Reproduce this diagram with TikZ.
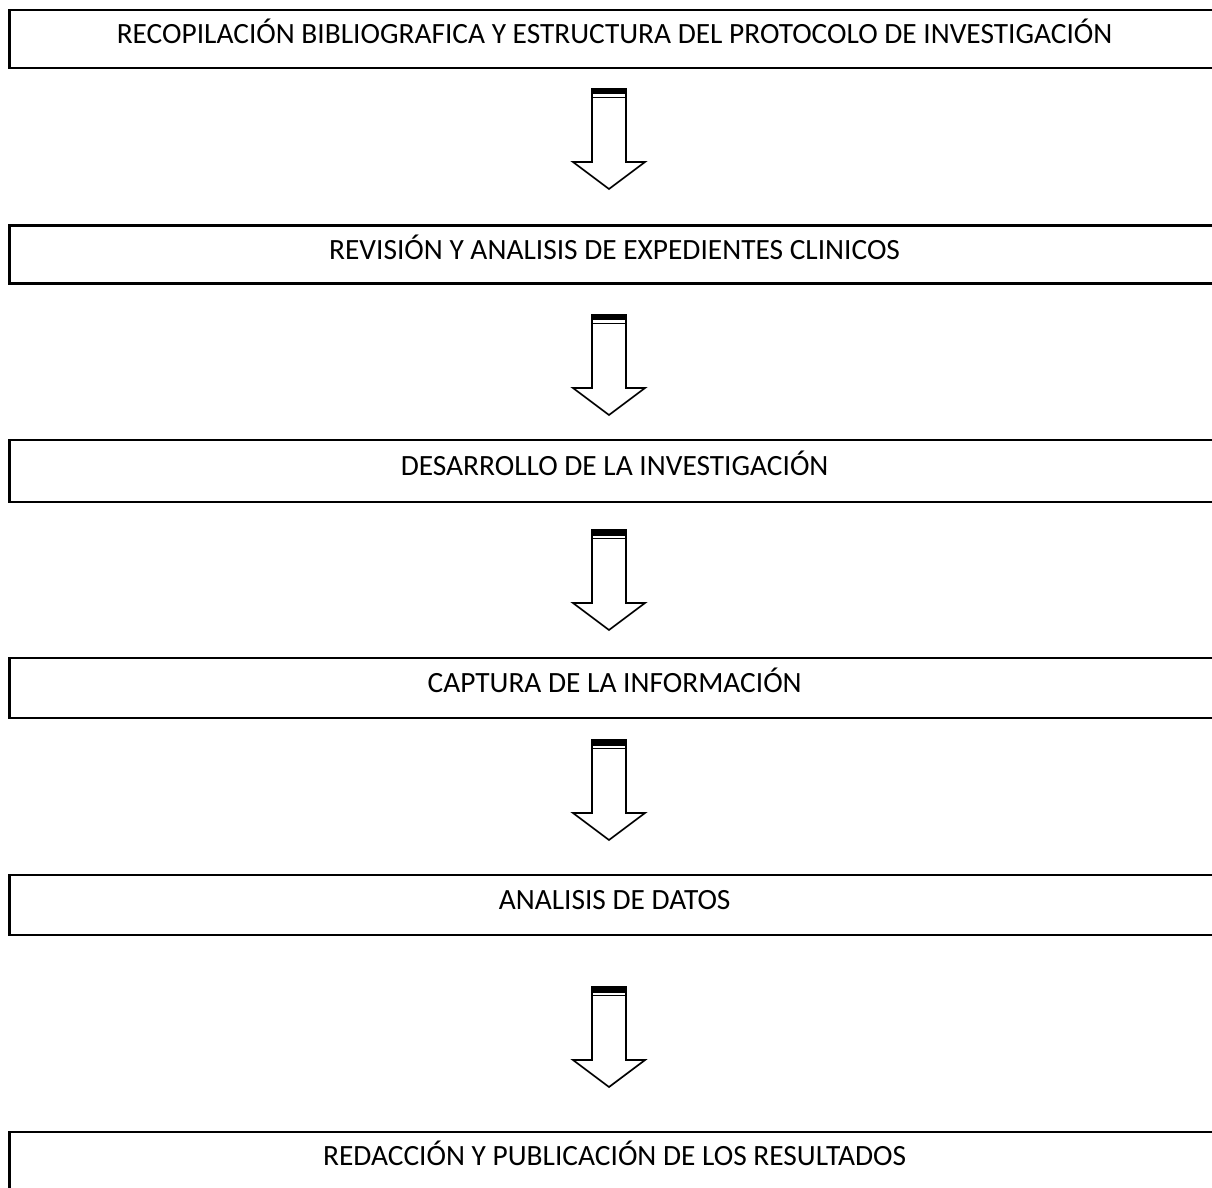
\documentclass[tikz,border=0pt]{standalone}
\usepackage{fontspec}
\setmainfont{Carlito}
\usepackage{tikz}
\usetikzlibrary{positioning}
\newcommand{\steptext}[1]{\makebox[30.25cm]{#1}\hspace*{1cm}}
\tikzset{box node/.style={draw,line width=2.1pt,minimum width=31.25cm,inner sep=0pt,anchor=west,
    text height=13.5pt,text depth=7pt,font=\fontsize{20.9pt}{24pt}\selectfont},
  arrow line/.style={draw,line width=1.2pt,fill=white,line join=miter},
  down arrow/.pic={
    \path[arrow line] (-17,0) -- (17,0) -- (17,73) -- (36,73) -- (0,100) -- (-36,73) -- (-17,73) -- cycle;
    \fill (-17,0) rectangle (17,5.5);
    \draw[line width=1.1pt] (-17,8.5) -- (17,8.5);
  },}
\begin{document}
\begin{tikzpicture}[x=0.025cm,y=-0.025cm]
    \useasboundingbox (0,0) rectangle (1212,1188);
    \clip (0,0) rectangle (1212,1188);

    \node[box node, minimum height=1.45cm] (1) at (8,39) {\steptext{RECOPILACIÓN BIBLIOGRAFICA Y ESTRUCTURA DEL PROTOCOLO DE INVESTIGACIÓN}};
    \node[box node, minimum height=1.43cm] (2) at (8,254.5) {\steptext{REVISIÓN Y ANALISIS DE EXPEDIENTES CLINICOS}};
    \node[box node, minimum height=1.55cm] (3) at (8,471) {\steptext{DESARROLLO DE LA INVESTIGACIÓN}};
    \node[box node, minimum height=1.5cm] (4) at (8,688) {\steptext{CAPTURA DE LA INFORMACIÓN}};
    \node[box node, minimum height=1.5cm] (5) at (8,905) {\steptext{ANALISIS DE DATOS}};
    \node[box node, minimum height=1.45cm] (6) at (8,1161) {\steptext{REDACCIÓN Y PUBLICACIÓN DE LOS RESULTADOS}};

    \coordinate (a1) at (609,89);
    \coordinate (a2) at (609,315);
    \coordinate (a3) at (609,530);
    \coordinate (a4) at (609,740);
    \coordinate (a5) at (609,987);

    \foreach \a in {a1,a2,a3,a4,a5}
      \pic at (\a) {down arrow};
\end{tikzpicture}
\end{document}
